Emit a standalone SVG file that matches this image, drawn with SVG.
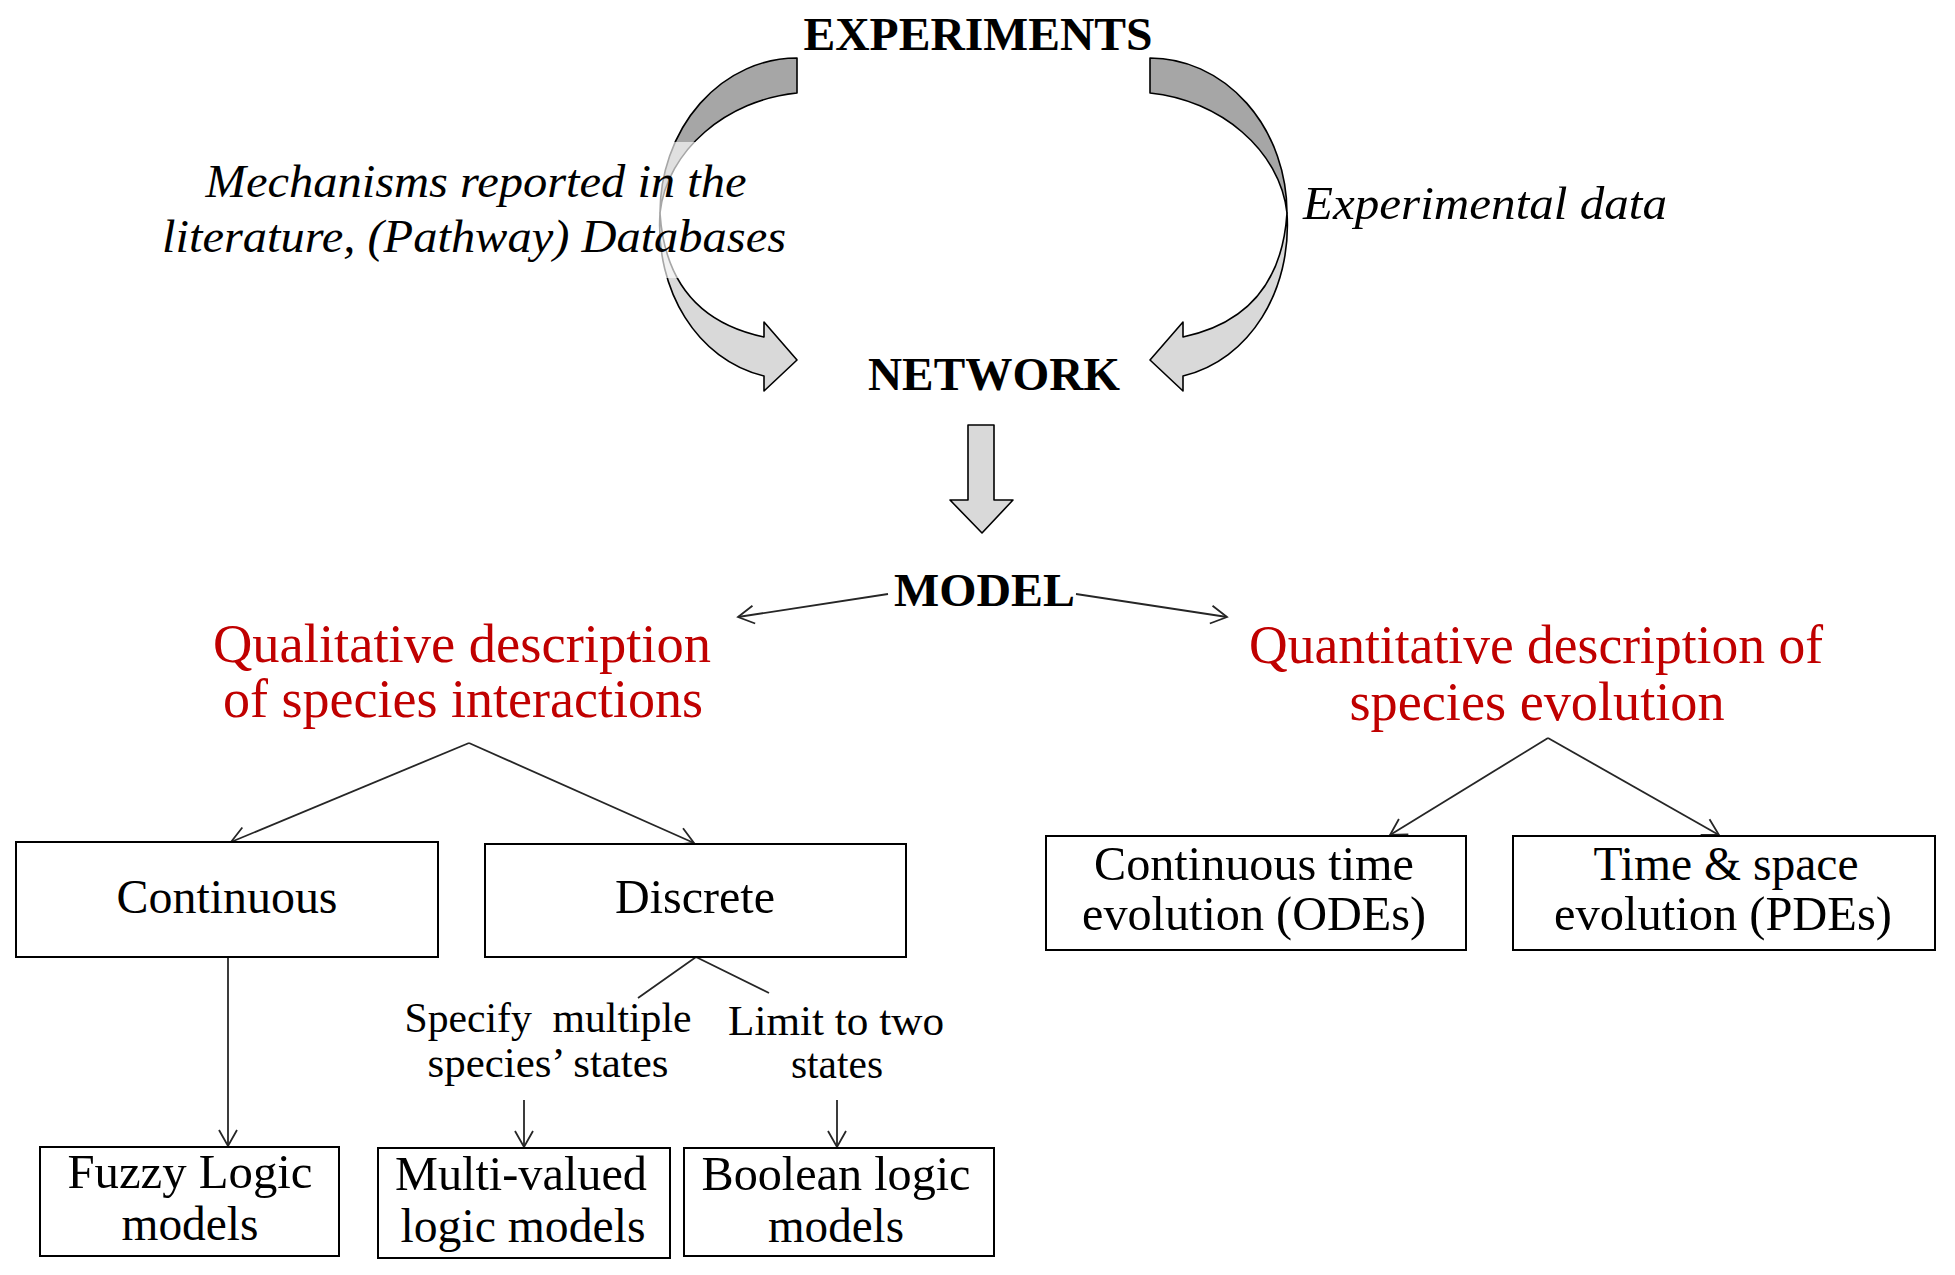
<svg xmlns="http://www.w3.org/2000/svg" xmlns:xlink="http://www.w3.org/1999/xlink" width="1955" height="1275" viewBox="0 0 1955 1275">
<style>
 text { font-family: "Liberation Serif", "Times New Roman", serif; fill: #000; text-anchor: middle; }
 .bold { font-weight: bold; font-size: 47px; }
 .ital { font-style: italic; font-size: 47px; }
 .red { fill: #c00000; font-size: 55px; }
 .box { fill: #fff; stroke: #000; stroke-width: 2; }
 .bt { font-size: 48px; }
 .lbl { font-size: 42px; }
 .ln { stroke: #262626; stroke-width: 1.8; fill: none; }
 .dark { fill: #a6a6a6; stroke: #000; stroke-width: 1.6; stroke-linejoin: round; }
 .light { fill: #d9d9d9; stroke: #000; stroke-width: 1.6; stroke-linejoin: round; }
</style>
<defs>
 <marker id="ah" markerUnits="userSpaceOnUse" viewBox="-20 -12 24 24" refX="0" refY="0" markerWidth="24" markerHeight="24" orient="auto">
  <path d="M-16,-9 L0,0 L-16,9" fill="none" stroke="#262626" stroke-width="1.8"/>
 </marker>
 <g id="curved">
  <path class="dark" d="M1150,58 A137,155 0 0 1 1287,213 C1280,150 1220,100 1150,93 Z"/>
  <path class="light" d="M1287,213 C1292,290 1250,360 1183,376 L1183,391 L1150,360 L1183,322 L1183,337 C1240,325 1282,290 1287,213 Z"/>
 </g>
</defs>
<rect width="1955" height="1275" fill="#fff"/>
<g id="connectors">
 <use xlink:href="#curved" href="#curved"/>
 <use xlink:href="#curved" href="#curved" transform="translate(1947,0) scale(-1,1)"/>
 <path class="light" stroke-width="2" d="M968,425 L994,425 L994,500 L1013,500 L982,533 L950,500 L968,500 Z"/>
 <line class="ln" x1="888" y1="594" x2="738" y2="617" marker-end="url(#ah)"/>
 <line class="ln" x1="1076" y1="594" x2="1227" y2="617" marker-end="url(#ah)"/>
 <line class="ln" x1="469" y1="743" x2="231" y2="842" marker-end="url(#ah)"/>
 <line class="ln" x1="469" y1="743" x2="694" y2="843" marker-end="url(#ah)"/>
 <line class="ln" x1="1548" y1="738" x2="1390" y2="835" marker-end="url(#ah)"/>
 <line class="ln" x1="1548" y1="738" x2="1719" y2="835" marker-end="url(#ah)"/>
 <line class="ln" x1="228" y1="957" x2="228" y2="1146" marker-end="url(#ah)"/>
 <polyline class="ln" points="638,998 696,957 769,993"/>
 <line class="ln" x1="524" y1="1100" x2="524" y2="1147" marker-end="url(#ah)"/>
 <line class="ln" x1="837" y1="1100" x2="837" y2="1147" marker-end="url(#ah)"/>
</g>
<rect x="150" y="142" width="640" height="136" fill="#fff" fill-opacity="0.65"/>
<g id="experiments"><text class="bold" x="978" y="50" textLength="349" lengthAdjust="spacingAndGlyphs">EXPERIMENTS</text></g>
<g id="network"><text class="bold" x="994" y="390" textLength="252" lengthAdjust="spacingAndGlyphs">NETWORK</text></g>
<g id="model"><text class="bold" x="984.5" y="606" textLength="181" lengthAdjust="spacingAndGlyphs">MODEL</text></g>
<g id="literature">
 <text class="ital" x="476" y="197" textLength="541" lengthAdjust="spacingAndGlyphs">Mechanisms reported in the</text>
 <text class="ital" x="474" y="252" textLength="624" lengthAdjust="spacingAndGlyphs">literature, (Pathway) Databases</text>
</g>
<g id="expdata"><text class="ital" x="1485" y="219" textLength="364" lengthAdjust="spacingAndGlyphs">Experimental data</text></g>
<g id="qualitative">
 <text class="red" x="462" y="662" textLength="498" lengthAdjust="spacingAndGlyphs">Qualitative description</text>
 <text class="red" x="463" y="717" textLength="480" lengthAdjust="spacingAndGlyphs">of species interactions</text>
</g>
<g id="quantitative">
 <text class="red" x="1536" y="663" textLength="574" lengthAdjust="spacingAndGlyphs">Quantitative description of</text>
 <text class="red" x="1537" y="720" textLength="375" lengthAdjust="spacingAndGlyphs">species evolution</text>
</g>
<g id="continuous">
 <rect class="box" x="16" y="842" width="422" height="115"/>
 <text class="bt" x="227" y="913" textLength="221" lengthAdjust="spacingAndGlyphs">Continuous</text>
</g>
<g id="discrete">
 <rect class="box" x="485" y="844" width="421" height="113"/>
 <text class="bt" x="695" y="913" textLength="160" lengthAdjust="spacingAndGlyphs">Discrete</text>
</g>
<g id="ode">
 <rect class="box" x="1046" y="836" width="420" height="114"/>
 <text class="bt" x="1254" y="880" textLength="320" lengthAdjust="spacingAndGlyphs">Continuous time</text>
 <text class="bt" x="1254" y="930" textLength="344" lengthAdjust="spacingAndGlyphs">evolution (ODEs)</text>
</g>
<g id="pde">
 <rect class="box" x="1513" y="836" width="422" height="114"/>
 <text class="bt" x="1726" y="880" textLength="265" lengthAdjust="spacingAndGlyphs">Time &amp; space</text>
 <text class="bt" x="1723" y="930" textLength="338" lengthAdjust="spacingAndGlyphs">evolution (PDEs)</text>
</g>
<g id="fuzzy">
 <rect class="box" x="40" y="1147" width="299" height="109"/>
 <text class="bt" x="190" y="1188" textLength="245" lengthAdjust="spacingAndGlyphs">Fuzzy Logic</text>
 <text class="bt" x="190" y="1240" textLength="137" lengthAdjust="spacingAndGlyphs">models</text>
</g>
<g id="multivalued">
 <rect class="box" x="378" y="1148" width="292" height="110"/>
 <text class="bt" x="521" y="1190" textLength="252" lengthAdjust="spacingAndGlyphs">Multi-valued</text>
 <text class="bt" x="523" y="1242" textLength="245" lengthAdjust="spacingAndGlyphs">logic models</text>
</g>
<g id="boolean">
 <rect class="box" x="684" y="1148" width="310" height="108"/>
 <text class="bt" x="836" y="1190" textLength="269" lengthAdjust="spacingAndGlyphs">Boolean logic</text>
 <text class="bt" x="836" y="1242" textLength="136" lengthAdjust="spacingAndGlyphs">models</text>
</g>
<g id="label-multiple">
 <text class="lbl" x="548" y="1032" textLength="287" lengthAdjust="spacingAndGlyphs">Specify&#160; multiple</text>
 <text class="lbl" x="548" y="1077" textLength="241" lengthAdjust="spacingAndGlyphs">species’ states</text>
</g>
<g id="label-two">
 <text class="lbl" x="836" y="1035" textLength="216" lengthAdjust="spacingAndGlyphs">Limit to two</text>
 <text class="lbl" x="837" y="1078" textLength="92" lengthAdjust="spacingAndGlyphs">states</text>
</g>
</svg>
